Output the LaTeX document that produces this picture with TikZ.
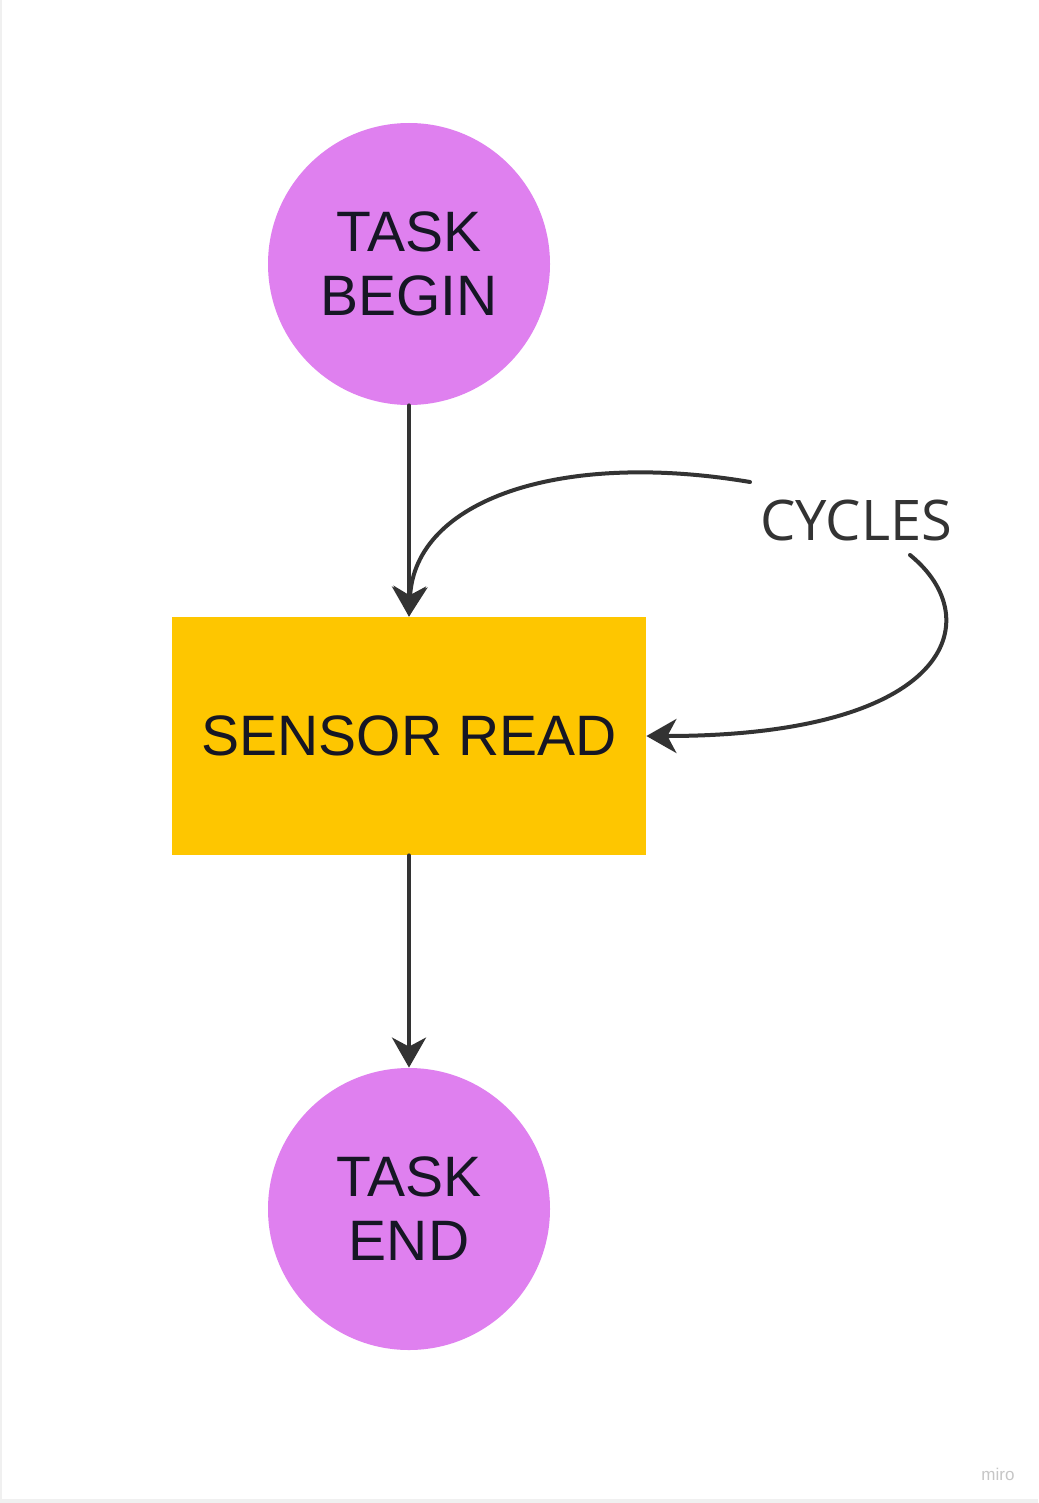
\documentclass[tikz,border=0pt]{standalone}
\usepackage{fontspec}
\setmainfont{Liberation Sans}
\newfontfamily\opensans{Open Sans}
\usetikzlibrary{arrows.meta}
\definecolor{nodepink}{RGB}{223,128,239}
\definecolor{nodeyellow}{RGB}{254,198,0}
\definecolor{linegray}{RGB}{51,51,51}
\definecolor{txtdark}{RGB}{22,22,36}
\begin{document}
\begin{tikzpicture}[x=0.5pt,y=-0.5pt,
  terminal/.style={circle,fill=nodepink,minimum size=141pt,inner sep=0pt,align=center,
    font=\fontsize{28.5}{32}\selectfont,text=txtdark},
  process/.style={rectangle,fill=nodeyellow,minimum width=237pt,minimum height=119pt,inner sep=0pt,
    font=\fontsize{28.5}{32}\selectfont,text=txtdark},
  conn/.style={draw=linegray,line width=2pt,line cap=round,line join=round,
    -{Stealth[length=15pt,width=17pt,inset=4.5pt]}},
  lbl/.style={font=\opensans\fontsize{28}{30}\selectfont,text=linegray,inner sep=0pt}]
\useasboundingbox (0,0) rectangle (1038,1503);
\fill[white] (0,0) rectangle (1038,1503);
\fill[gray!12] (0,0) rectangle (2,1503);
\fill[gray!12] (0,1499) rectangle (1038,1503);
\node[terminal] (begin) at (409,264) {TASK\\BEGIN};
\node[process] (sensor) at (409,736) {SENSOR READ};
\node[terminal] (end) at (409,1209) {TASK\\END};
\node[lbl] (cyc) at (856,520) {CYCLES};
\coordinate (c1) at (750,482);
\coordinate (c2) at (910,555);
\draw[conn] (begin.south) -- (sensor.north);
\draw[conn] (sensor.south) -- (end.north);
\draw[conn] (c1) .. controls (560,450) and (415,500) .. (sensor.north);
\draw[conn] (c2) .. controls (990,620) and (950,736) .. (sensor.east);
\node[font=\fontsize{8.5}{9}\selectfont,text=gray!45] (miro) at (998,1474) {miro};
\end{tikzpicture}
\end{document}
